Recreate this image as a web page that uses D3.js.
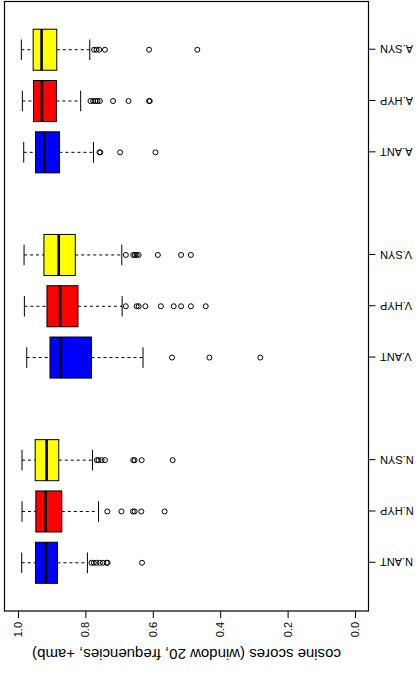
<!DOCTYPE html>
<html>
<head>
<meta charset="utf-8">
<script src="https://cdn.jsdelivr.net/npm/d3@7"></script>
<style>
  html, body { margin: 0; padding: 0; background: #fff; }
  svg { display: block; }
  text { font-family: "Liberation Sans", Arial, sans-serif; fill: #000; }
</style>
</head>
<body>
<svg id="chart" width="419" height="673"></svg>
<script>
// Category names and their slot positions (gaps at 4 and 8 separate the groups)
const categories = ["N.ANT", "N.HYP", "N.SYN", "V.ANT", "V.HYP", "V.SYN", "A.ANT", "A.HYP", "A.SYN"];
const positions  = [1, 2, 3, 5, 6, 7, 9, 10, 11];
const fills      = ["#0000ff", "#ff0000", "#ffff00", "#0000ff", "#ff0000", "#ffff00", "#0000ff", "#ff0000", "#ffff00"];

// Five-number summaries: lower whisker, Q1, median, Q3, upper whisker
const lowerWhisker = [0.794, 0.761, 0.779, 0.629, 0.691, 0.692, 0.776, 0.814, 0.787];
const q1           = [0.883, 0.870, 0.879, 0.782, 0.822, 0.830, 0.877, 0.886, 0.885];
const medians      = [0.917, 0.918, 0.915, 0.873, 0.875, 0.879, 0.922, 0.929, 0.930];
const q3           = [0.948, 0.947, 0.949, 0.905, 0.914, 0.923, 0.948, 0.954, 0.955];
const upperWhisker = [0.989, 0.988, 0.988, 0.974, 0.981, 0.982, 0.983, 0.987, 0.990];

// Outlying cosine scores per category
const outliers = [
  [0.782, 0.775, 0.767, 0.757, 0.748, 0.737, 0.734, 0.632],
  [0.735, 0.693, 0.659, 0.654, 0.634, 0.565],
  [0.766, 0.761, 0.752, 0.742, 0.658, 0.654, 0.633, 0.541],
  [0.543, 0.432, 0.281],
  [0.680, 0.648, 0.642, 0.622, 0.576, 0.538, 0.516, 0.487, 0.443],
  [0.680, 0.658, 0.653, 0.648, 0.642, 0.585, 0.516, 0.487],
  [0.758, 0.756, 0.697, 0.592],
  [0.785, 0.777, 0.770, 0.764, 0.757, 0.718, 0.672, 0.611, 0.609],
  [0.774, 0.767, 0.759, 0.742, 0.611, 0.468]
];

const valueTicks = [0.0, 0.2, 0.4, 0.6, 0.8, 1.0];
const yTitle = "cosine scores (window 20, frequencies, +amb)";

// The plot is built as an upright boxplot (673 wide, 419 tall) and then
// turned a quarter turn counter-clockwise onto the page.
const W = 673, H = 419;
const svg = d3.select("#chart");
const g = svg.append("g").attr("transform", `translate(0,${W}) rotate(-90)`);

const x = d3.scaleLinear().domain([0.06, 11.94]).range([62, 671.5]);
const y = d3.scaleLinear().domain([-0.04, 1.04]).range([368.5, 4.5]);
const unit = x(2) - x(1);
const boxW = 0.8 * unit;
const stapleW = boxW * 0.5;

// Frame
g.append("rect")
  .attr("x", x(0.06)).attr("y", y(1.04))
  .attr("width", x(11.94) - x(0.06)).attr("height", y(-0.04) - y(1.04))
  .attr("fill", "none").attr("stroke", "#000").attr("stroke-width", 1.2);

// Value axis
const yAxis = g.append("g")
  .attr("transform", `translate(${x(0.06)},0)`)
  .call(d3.axisLeft(y).tickValues(valueTicks).tickFormat(d3.format(".1f"))
        .tickSize(7).tickSizeOuter(0).tickPadding(4));
yAxis.select(".domain").remove();
yAxis.selectAll("line").attr("stroke", "#000");
yAxis.selectAll("text").style("font-size", "11px")
  .style("font-family", "'Liberation Sans', Arial, sans-serif");

// Category axis
const xAxis = g.append("g")
  .attr("transform", `translate(0,${y(-0.04)})`)
  .call(d3.axisBottom(x).tickValues(positions).tickFormat((d, i) => categories[i])
        .tickSize(7).tickSizeOuter(0));
xAxis.select(".domain").remove();
xAxis.selectAll("line").attr("stroke", "#000");
xAxis.selectAll("text")
  .attr("transform", "rotate(-90)")
  .attr("x", -11.5).attr("y", 0).attr("dy", "0.35em")
  .attr("text-anchor", "end")
  .style("font-size", "11px")
  .style("font-family", "'Liberation Sans', Arial, sans-serif");

// Axis title
g.append("text")
  .attr("transform", `translate(19,${(y(-0.04) + y(1.04)) / 2}) rotate(-90)`)
  .attr("text-anchor", "middle").attr("dy", "0.35em")
  .style("font-size", "15px")
  .text(yTitle);

// Boxes
const boxes = g.append("g").selectAll("g.box")
  .data(categories.map((c, i) => ({
    c, p: positions[i], fill: fills[i],
    lo: lowerWhisker[i], q1: q1[i], med: medians[i], q3: q3[i], hi: upperWhisker[i],
    out: outliers[i]
  })))
  .join("g").attr("class", "box");

// Whiskers (dashed)
boxes.append("line")
  .attr("x1", d => x(d.p)).attr("x2", d => x(d.p))
  .attr("y1", d => y(d.hi)).attr("y2", d => y(d.q3))
  .attr("stroke", "#000").attr("stroke-dasharray", "3,3");
boxes.append("line")
  .attr("x1", d => x(d.p)).attr("x2", d => x(d.p))
  .attr("y1", d => y(d.q1)).attr("y2", d => y(d.lo))
  .attr("stroke", "#000").attr("stroke-dasharray", "3,3");

// Staples
boxes.append("line")
  .attr("x1", d => x(d.p) - stapleW / 2).attr("x2", d => x(d.p) + stapleW / 2)
  .attr("y1", d => y(d.hi)).attr("y2", d => y(d.hi))
  .attr("stroke", "#000");
boxes.append("line")
  .attr("x1", d => x(d.p) - stapleW / 2).attr("x2", d => x(d.p) + stapleW / 2)
  .attr("y1", d => y(d.lo)).attr("y2", d => y(d.lo))
  .attr("stroke", "#000");

// Box body
boxes.append("rect")
  .attr("x", d => x(d.p) - boxW / 2).attr("width", boxW)
  .attr("y", d => y(d.q3)).attr("height", d => y(d.q1) - y(d.q3))
  .attr("fill", d => d.fill).attr("stroke", "#000").attr("stroke-width", 1);

// Median
boxes.append("line")
  .attr("x1", d => x(d.p) - boxW / 2).attr("x2", d => x(d.p) + boxW / 2)
  .attr("y1", d => y(d.med)).attr("y2", d => y(d.med))
  .attr("stroke", "#000").attr("stroke-width", 2.6);

// Outliers
boxes.selectAll("circle")
  .data(d => d.out.map(v => ({ p: d.p, v })))
  .join("circle")
  .attr("cx", d => x(d.p)).attr("cy", d => y(d.v)).attr("r", 2.5)
  .attr("fill", "none").attr("stroke", "#000").attr("stroke-width", 1);
</script>
</body>
</html>
